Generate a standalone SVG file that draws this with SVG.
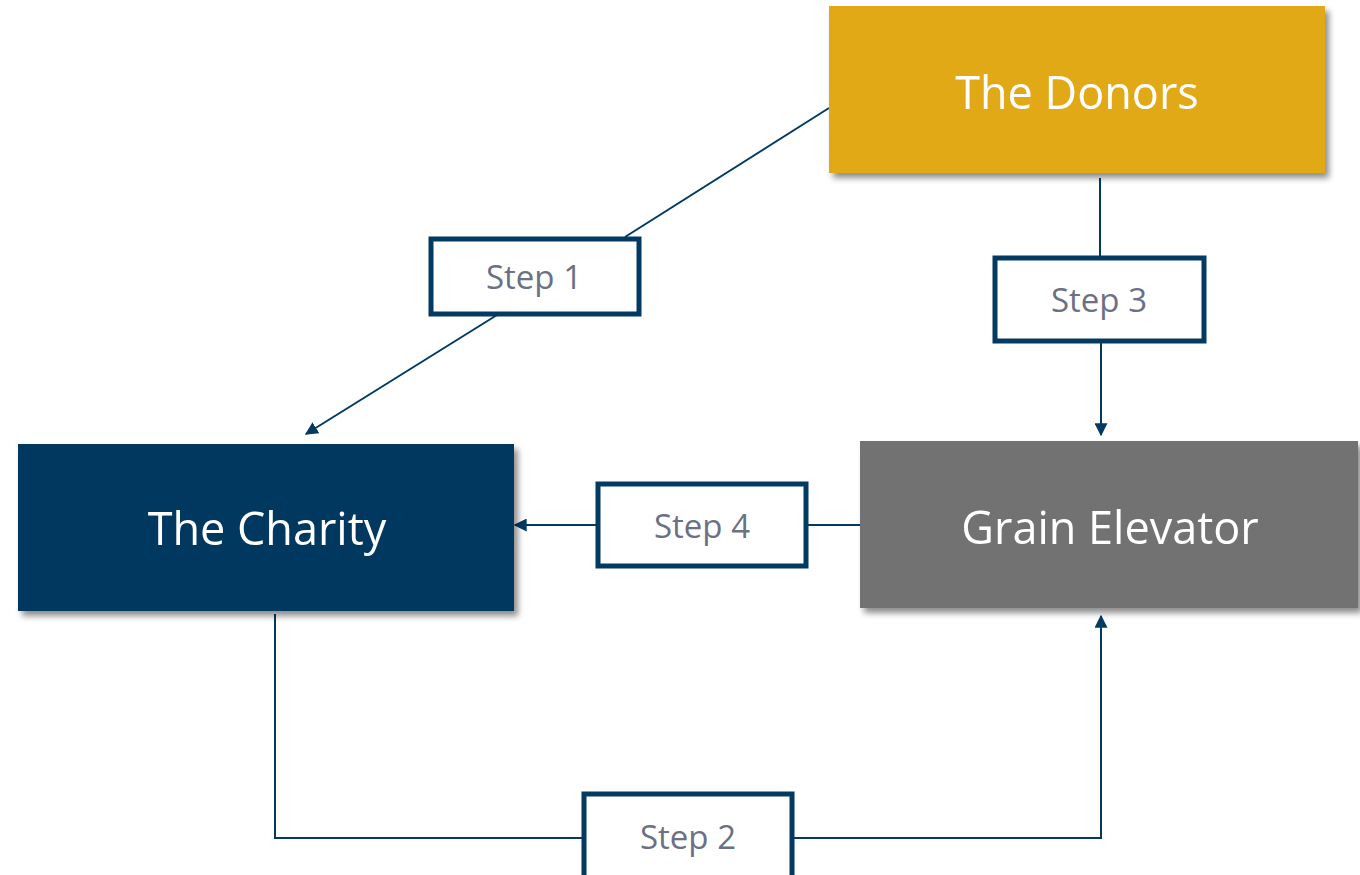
<svg xmlns="http://www.w3.org/2000/svg" width="1360" height="875" viewBox="0 0 1360 875">
<defs>
<filter id="sh" x="-10%" y="-20%" width="125%" height="150%">
<feGaussianBlur in="SourceAlpha" stdDeviation="3"/>
<feOffset dx="4" dy="5" result="b"/>
<feComponentTransfer><feFuncA type="linear" slope="0.45"/></feComponentTransfer>
<feMerge><feMergeNode/><feMergeNode in="SourceGraphic"/></feMerge>
</filter>
<marker id="ah" markerWidth="13" markerHeight="13" refX="9" refY="5" orient="auto" markerUnits="userSpaceOnUse" viewBox="0 0 10 10">
<path d="M0,0 L10,5 L0,10 z" fill="#033a62"/>
</marker>
<style>
.node{filter:url(#sh)}
.nt{font-family:"Open Sans","Noto Sans",sans-serif;font-size:45px;fill:#ffffff;text-anchor:middle;dominant-baseline:central}
.lab{fill:#ffffff;stroke:#033a62;stroke-width:5}
.lt{font-family:"Open Sans","Noto Sans",sans-serif;font-size:33px;fill:#6b7084;text-anchor:middle;dominant-baseline:central}
.c{fill:none;stroke:#033a62;stroke-width:2}
</style>
</defs>
<rect width="1360" height="875" fill="#ffffff"/>
<g id="connectors">
<line class="c" x1="829" y1="108" x2="625" y2="237"/>
<line class="c" x1="497" y1="315" x2="306" y2="434" marker-end="url(#ah)"/>
<line class="c" x1="1100" y1="178" x2="1100" y2="256"/>
<line class="c" x1="1101" y1="342" x2="1101" y2="435" marker-end="url(#ah)"/>
<line class="c" x1="860" y1="525" x2="808" y2="525"/>
<line class="c" x1="596" y1="525" x2="515" y2="525" marker-end="url(#ah)"/>
<polyline class="c" points="275,614 275,838 582,838"/>
<polyline class="c" points="794,838 1101,838 1101,616" marker-end="url(#ah)"/>
</g>
<g id="donors" class="node">
<rect x="829" y="6" width="496" height="167" fill="#e1a918"/>
<text class="nt" x="1077" y="91">The Donors</text>
</g>
<g id="charity" class="node">
<rect x="18" y="444" width="496" height="167" fill="#033860"/>
<text class="nt" x="267" y="527">The Charity</text>
</g>
<g id="grain" class="node">
<rect x="860" y="441" width="498" height="167" fill="#727272"/>
<text class="nt" x="1110" y="526">Grain Elevator</text>
</g>
<g id="step1">
<rect class="lab" x="431" y="239" width="208" height="75"/>
<text class="lt" x="534" y="276">Step 1</text>
</g>
<g id="step3">
<rect class="lab" x="995" y="258" width="209" height="83"/>
<text class="lt" x="1099" y="299">Step 3</text>
</g>
<g id="step4">
<rect class="lab" x="598" y="484" width="208" height="82"/>
<text class="lt" x="702" y="525">Step 4</text>
</g>
<g id="step2">
<rect class="lab" x="584" y="794" width="208" height="90"/>
<text class="lt" x="688" y="836">Step 2</text>
</g>
</svg>
